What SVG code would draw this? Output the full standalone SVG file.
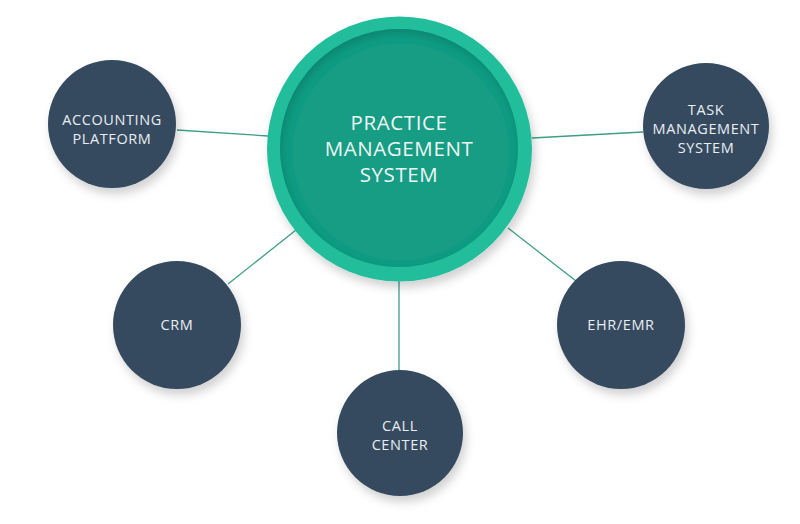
<svg xmlns="http://www.w3.org/2000/svg" width="800" height="524" viewBox="0 0 800 524">
<style>
.node{fill:#34495e;filter:url(#sh);}
.lbl{font-family:"Open Sans","Liberation Sans",sans-serif;font-size:14.5px;letter-spacing:0.6px;fill:#e9eef1;text-anchor:middle;}
.big{font-family:"Open Sans","Liberation Sans",sans-serif;font-size:20.5px;letter-spacing:0.6px;fill:#eef6f3;text-anchor:middle;}
.conn line{stroke:#3f9d88;stroke-width:1.3;}
</style>
<defs>
<filter id="sh" x="-30%" y="-30%" width="170%" height="170%">
<feGaussianBlur in="SourceAlpha" stdDeviation="5"/>
<feOffset dx="3" dy="6" result="b"/>
<feFlood flood-color="#000" flood-opacity="0.18"/>
<feComposite in2="b" operator="in"/>
<feMerge><feMergeNode/><feMergeNode in="SourceGraphic"/></feMerge>
</filter>
<filter id="inner" x="-10%" y="-10%" width="120%" height="120%">
<feGaussianBlur in="SourceAlpha" stdDeviation="5"/>
<feOffset dx="2" dy="4" result="o"/>
<feComposite in="SourceAlpha" in2="o" operator="out" result="ring"/>
<feFlood flood-color="#0b5e4e" flood-opacity="0.5"/>
<feComposite in2="ring" operator="in" result="s"/>
<feMerge><feMergeNode in="SourceGraphic"/><feMergeNode in="s"/></feMerge>
</filter>
</defs>
<rect width="800" height="524" fill="#ffffff"/>
<g class="conn">
<line x1="177" y1="130" x2="268" y2="136"/>
<line x1="532" y1="138" x2="643" y2="132"/>
<line x1="228" y1="284" x2="296" y2="230"/>
<line x1="399" y1="280" x2="399" y2="371"/>
<line x1="508" y1="228" x2="576" y2="281"/>
</g>
<g id="center">
<circle cx="399.5" cy="149" r="132.5" fill="#23bd9a" filter="url(#sh)"/>
<circle cx="399" cy="148" r="119" fill="#169d84" filter="url(#inner)"/>
<text class="big" x="399" y="130">PRACTICE</text>
<text class="big" x="399" y="156">MANAGEMENT</text>
<text class="big" x="399" y="182">SYSTEM</text>
</g>
<g id="accounting">
<circle class="node" cx="112" cy="124" r="64"/>
<text class="lbl" x="112" y="125">ACCOUNTING</text>
<text class="lbl" x="112" y="144">PLATFORM</text>
</g>
<g id="task">
<circle class="node" cx="706" cy="126" r="63"/>
<text class="lbl" x="706" y="115">TASK</text>
<text class="lbl" x="706" y="134">MANAGEMENT</text>
<text class="lbl" x="706" y="153">SYSTEM</text>
</g>
<g id="crm">
<circle class="node" cx="177" cy="325" r="64"/>
<text class="lbl" x="177" y="330">CRM</text>
</g>
<g id="callcenter">
<circle class="node" cx="400" cy="433" r="63"/>
<text class="lbl" x="400" y="431">CALL</text>
<text class="lbl" x="400" y="450">CENTER</text>
</g>
<g id="ehr">
<circle class="node" cx="621" cy="325" r="64"/>
<text class="lbl" x="621" y="330">EHR/EMR</text>
</g>
</svg>
